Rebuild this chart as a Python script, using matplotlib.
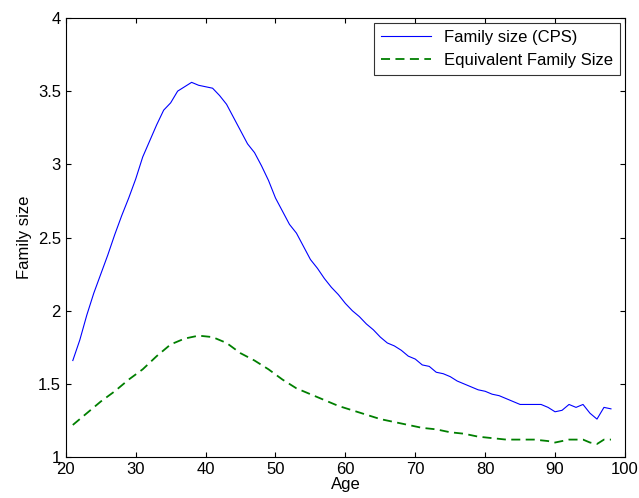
import matplotlib
matplotlib.use("Agg")
import matplotlib.pyplot as plt

plt.rcParams['font.family'] = ['Liberation Sans', 'DejaVu Sans']

##### DATA #####
ages_cps = list(range(21, 99))
family_cps = [1.66, 1.80, 1.97, 2.12, 2.25, 2.38, 2.52, 2.65, 2.77, 2.90,
              3.05, 3.16, 3.27, 3.37, 3.42, 3.50, 3.53, 3.56, 3.54, 3.53,
              3.52, 3.47, 3.41, 3.32, 3.23, 3.14, 3.08, 2.99, 2.89, 2.77,
              2.68, 2.59, 2.53, 2.44, 2.35, 2.29, 2.22, 2.16, 2.11, 2.05,
              2.00, 1.96, 1.91, 1.87, 1.82, 1.78, 1.76, 1.73, 1.69, 1.67,
              1.63, 1.62, 1.58, 1.57, 1.55, 1.52, 1.50, 1.48, 1.46, 1.45,
              1.43, 1.42, 1.40, 1.38, 1.36, 1.36, 1.36, 1.36, 1.34, 1.31,
              1.32, 1.36, 1.34, 1.36, 1.30, 1.26, 1.34, 1.33]

ages_eq = [21, 23, 25, 27, 29, 31, 33, 35, 37, 38, 39, 41, 43, 45, 47, 49,
           51, 53, 55, 57, 59, 61, 63, 65, 67, 69, 71, 73, 75, 77, 79, 81,
           83, 85, 87, 89, 90, 91, 92, 93, 94, 95, 96, 97, 98]
family_eq = [1.22, 1.30, 1.38, 1.45, 1.53, 1.60, 1.69, 1.77, 1.81, 1.82,
             1.83, 1.82, 1.78, 1.71, 1.66, 1.60, 1.53, 1.47, 1.43, 1.39,
             1.35, 1.32, 1.29, 1.26, 1.24, 1.22, 1.20, 1.19, 1.17, 1.16,
             1.14, 1.13, 1.12, 1.12, 1.12, 1.11, 1.10, 1.11, 1.12, 1.12,
             1.12, 1.10, 1.09, 1.12, 1.12]

fig = plt.figure(figsize=(6.39, 4.98), dpi=100)
ax = fig.add_axes([0.103, 0.082, 0.875, 0.882])

ax.plot(ages_cps, family_cps, color='blue', lw=0.8, label='Family size (CPS)')
ax.plot(ages_eq, family_eq, color='#007f00', lw=1.3, ls=(0, (5, 3)),
        label='Equivalent Family Size')

ax.set_xlim(20, 100)
ax.set_ylim(1, 4)
ax.set_xticks(range(20, 101, 10))
ax.set_yticks([1, 1.5, 2, 2.5, 3, 3.5, 4])
ax.set_yticklabels(['1', '1.5', '2', '2.5', '3', '3.5', '4'])
ax.tick_params(direction='in', labelsize=12, top=True, right=True)
ax.set_xlabel('Age', fontsize=12, labelpad=0)
ax.set_ylabel('Family size', fontsize=12)

leg = ax.legend(loc='upper right', fontsize=12, fancybox=False,
                edgecolor='black', handlelength=3, borderaxespad=0.3)
leg.get_frame().set_linewidth(0.8)

fig.savefig("out.png", dpi=100)
